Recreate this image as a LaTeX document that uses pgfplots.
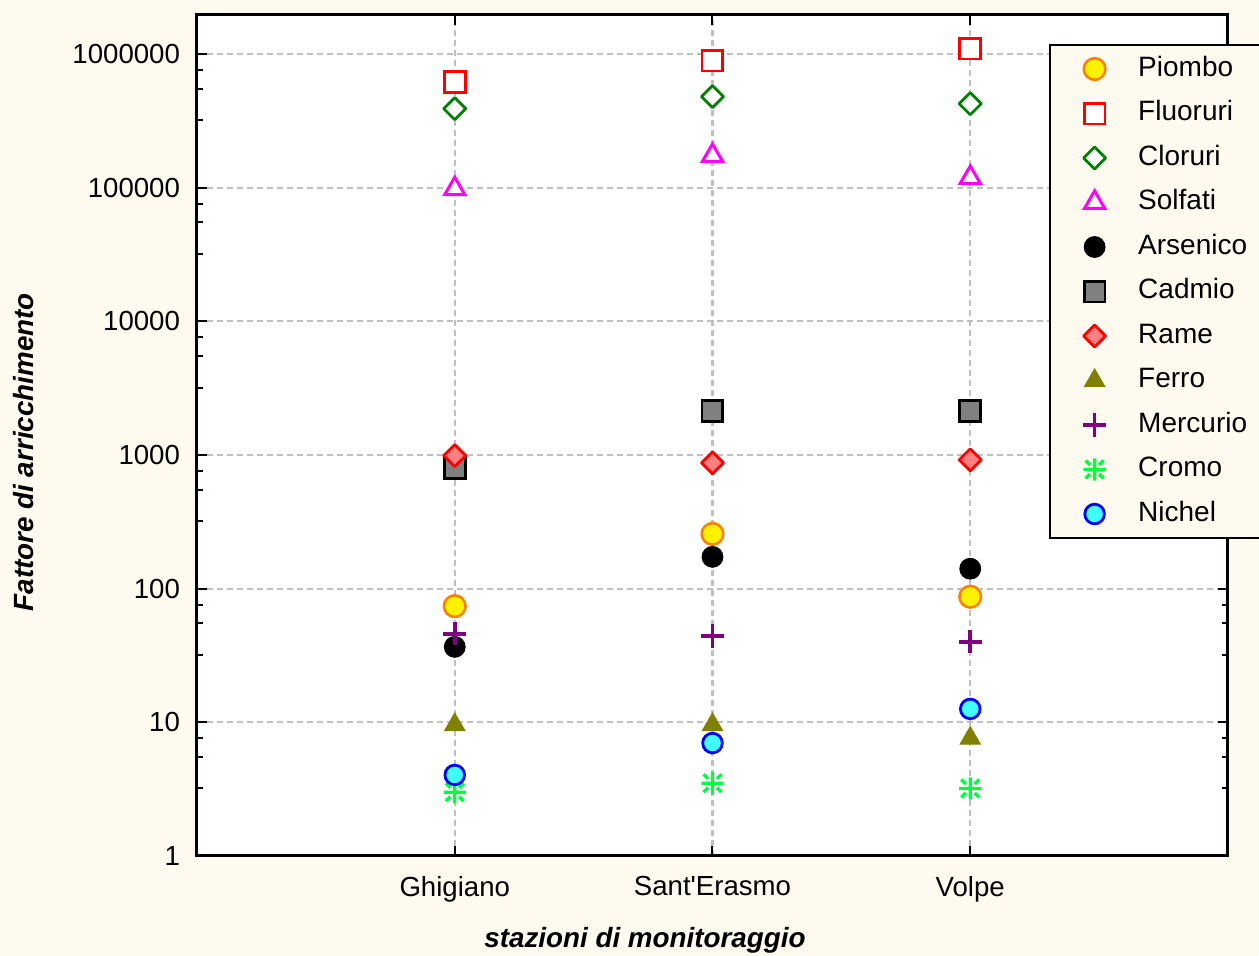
\documentclass[border=0pt]{standalone}
\usepackage{fontspec}
\setmainfont{Liberation Sans}[Ligatures=TeXOff]
\usepackage{pgfplots}
\pgfplotsset{compat=1.18}
\definecolor{cream}{RGB}{255,250,240}
\definecolor{gridgray}{RGB}{192,192,192}
\definecolor{pborange}{RGB}{255,128,0}
\definecolor{clgreen}{RGB}{0,128,0}
\definecolor{cdgray}{RGB}{128,128,128}
\definecolor{ramefill}{RGB}{255,128,128}
\definecolor{olivec}{RGB}{128,128,0}
\definecolor{purp}{RGB}{128,0,128}
\definecolor{crgreen}{RGB}{0,255,64}
\definecolor{nicyan}{RGB}{64,255,255}
\definecolor{magen}{RGB}{255,0,255}
\pgfdeclareplotmark{star8}{%
  \pgfpathmoveto{\pgfqpoint{0pt}{\pgfplotmarksize}}%
  \pgfpathlineto{\pgfqpoint{0pt}{-\pgfplotmarksize}}%
  \pgfpathmoveto{\pgfqpoint{\pgfplotmarksize}{0pt}}%
  \pgfpathlineto{\pgfqpoint{-\pgfplotmarksize}{0pt}}%
  \pgfpathmoveto{\pgfqpoint{0.4\pgfplotmarksize}{0.4\pgfplotmarksize}}%
  \pgfpathlineto{\pgfqpoint{0.8\pgfplotmarksize}{0.8\pgfplotmarksize}}%
  \pgfpathmoveto{\pgfqpoint{-0.4\pgfplotmarksize}{0.4\pgfplotmarksize}}%
  \pgfpathlineto{\pgfqpoint{-0.8\pgfplotmarksize}{0.8\pgfplotmarksize}}%
  \pgfpathmoveto{\pgfqpoint{0.4\pgfplotmarksize}{-0.4\pgfplotmarksize}}%
  \pgfpathlineto{\pgfqpoint{0.8\pgfplotmarksize}{-0.8\pgfplotmarksize}}%
  \pgfpathmoveto{\pgfqpoint{-0.4\pgfplotmarksize}{-0.4\pgfplotmarksize}}%
  \pgfpathlineto{\pgfqpoint{-0.8\pgfplotmarksize}{-0.8\pgfplotmarksize}}%
  \pgfusepathqstroke}
\begin{document}
\begin{tikzpicture}
\path[use as bounding box] (-98.5pt,-50pt) rectangle (531pt,428pt);
\clip (-98.5pt,-50pt) rectangle (531pt,428pt);
\fill[cream] (-98.5pt,-50pt) rectangle (531pt,428pt);
\begin{axis}[
  at={(0pt,0pt)}, anchor=south west,
  scale only axis, width=515.5pt, height=420.5pt,
  axis background/.style={fill=white},
  ymode=log, ymin=1, ymax=1.96e6,
  xmin=0, xmax=4,
  xtick={1,2,3}, xticklabels={Ghigiano,Sant'Erasmo,Volpe},
  ytick={1,10,100,1000,10000,100000,1000000},
  yticklabels={1,10,100,1000,10000,100000,1000000},
  minor ytick={3.2,5.5,7.6,32,55,76,320,550,760,3200,5500,7600,32000,55000,76000,320000,550000,760000},
  major tick length=5pt, minor tick length=3pt,
  tick style={black, line width=1pt},
  axis line style={black, line width=1.5pt},
  grid=major,
  major grid style={gridgray, line width=1.1pt, dash pattern=on 3pt off 2pt},
  ticklabel style={font=\fontsize{13.8}{16}\selectfont},
  xticklabel style={yshift=-6.5pt},
  yticklabel style={xshift=-5pt},
  xlabel={\bfseries\itshape stazioni di monitoraggio},
  ylabel={\bfseries\itshape Fattore di arricchimento},
  label style={font=\fontsize{13.9}{16}\selectfont},
  xlabel style={at={(axis description cs:0.4345,-0.0999)}, anchor=center},
  ylabel style={at={(axis description cs:-0.1678,0.48)}, anchor=center},
  legend style={at={(axis description cs:0.8264,0.9655)}, anchor=north west,
    fill=cream, draw=black, line width=1pt,
    font=\fontsize{14}{16}\selectfont,
    inner xsep=16.5pt, inner ysep=3.5pt, row sep=5.25pt, /tikz/column sep=14pt,
    nodes={text height=10pt, text depth=3pt}},
  legend cell align=left,
  clip=false,
]
\addplot[only marks, mark=*, mark size=5.4pt, mark options={draw=pborange, fill=yellow, line width=1.3pt}]
  coordinates {(1,74) (2,257) (3,87)};
\addlegendentry{Piombo}
\addplot[only marks, mark=square*, mark size=5.2pt, mark options={draw=red, fill=white, line width=1.4pt}]
  coordinates {(1,620000) (2,893000) (3,1097000)};
\addlegendentry{Fluoruri}
\addplot[only marks, mark=square*, mark size=3.9pt, mark options={rotate=45, draw=clgreen, fill=white, line width=1.4pt, line join=round}]
  coordinates {(1,390000) (2,480000) (3,425000)};
\addlegendentry{Cloruri}
\addplot[only marks, mark=triangle*, mark size=5.8pt, mark options={draw=magen, fill=white, line width=1.5pt}]
  coordinates {(1,98000) (2,174000) (3,119000)};
\addlegendentry{Solfati}
\addplot[only marks, mark=*, mark size=5.2pt, mark options={draw=black, fill=black, line width=0.5pt}]
  coordinates {(1,36.7) (2,173) (3,141)};
\addlegendentry{Arsenico}
\addplot[only marks, mark=square*, mark size=5.2pt, mark options={draw=black, fill=cdgray, line width=1.4pt}]
  coordinates {(1,800) (2,2140) (3,2140)};
\addlegendentry{Cadmio}
\addplot[only marks, mark=square*, mark size=3.9pt, mark options={rotate=45, draw=red, fill=ramefill, line width=1.4pt, line join=round}]
  coordinates {(1,990) (2,874) (3,921)};
\addlegendentry{Rame}
\addplot[only marks, mark=triangle*, mark size=5.8pt, mark options={draw=olivec, fill=olivec, line width=0.5pt}]
  coordinates {(1,9.6) (2,9.6) (3,7.6)};
\addlegendentry{Ferro}
\addplot[only marks, mark=+, mark size=5.8pt, mark options={draw=purp, line width=1.8pt}]
  coordinates {(1,46) (2,44.3) (3,40)};
\addlegendentry{Mercurio}
\addplot[only marks, mark=star8, mark size=5.6pt, mark options={draw=crgreen, line width=1.7pt}]
  coordinates {(1,3.0) (2,3.5) (3,3.2)};
\addlegendentry{Cromo}
\addplot[only marks, mark=*, mark size=4.9pt, mark options={draw=blue, fill=nicyan, line width=1.4pt}]
  coordinates {(1,4.04) (2,7.0) (3,12.6)};
\addlegendentry{Nichel}
\end{axis}
\end{tikzpicture}
\end{document}
